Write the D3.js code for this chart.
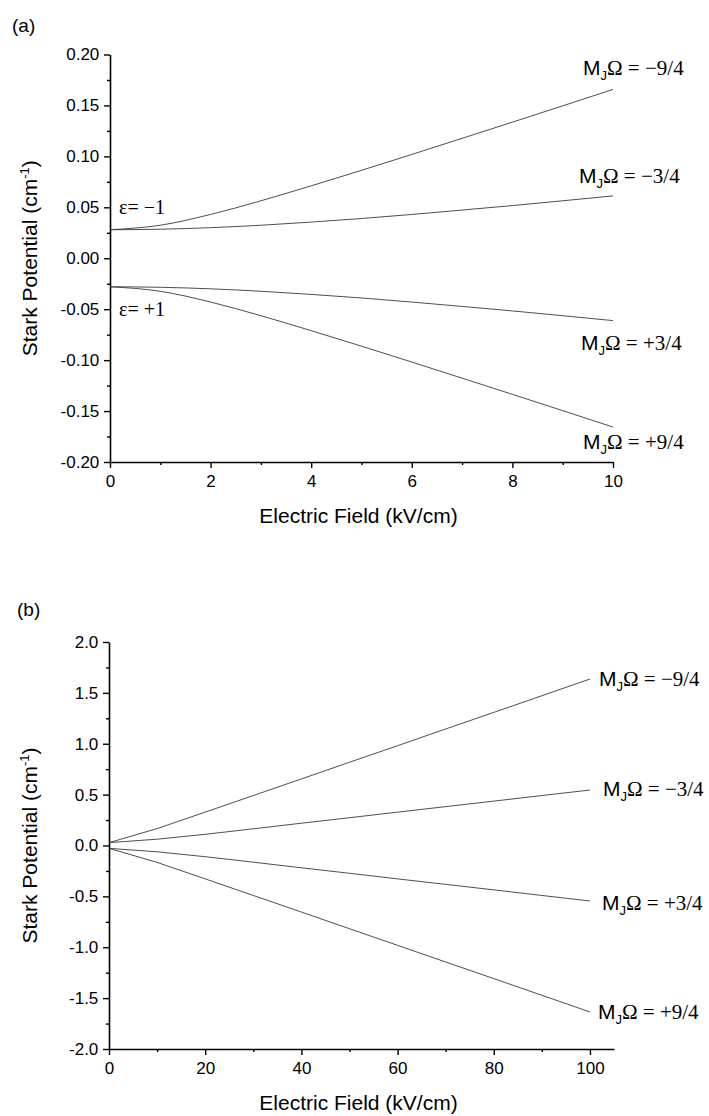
<!DOCTYPE html>
<html><head><meta charset="utf-8">
<script src="https://cdn.jsdelivr.net/npm/d3@7"></script>
<style>
html,body{margin:0;padding:0;background:#fff;}
svg{display:block;}
</style></head>
<body>
<svg id="chart" width="709" height="1116"></svg>
<script>
// ---------- DATA ----------
// Panel (a): low field
const fieldA = [0,1,2,3,4,5,6,7,8,9,10];
const aMinus94 = [0.028,0.0324,0.0430,0.0564,0.0711,0.0863,0.1019,0.1177,0.1336,0.1496,0.1657];
const aMinus34 = [0.028,0.0285,0.0300,0.0324,0.0355,0.0390,0.0430,0.0473,0.0517,0.0564,0.0612];
const aPlus34  = [-0.028,-0.0285,-0.0300,-0.0324,-0.0355,-0.0390,-0.0430,-0.0473,-0.0517,-0.0564,-0.0612];
const aPlus94  = [-0.028,-0.0324,-0.0430,-0.0564,-0.0711,-0.0863,-0.1019,-0.1177,-0.1336,-0.1496,-0.1657];
// Panel (b): high field
const fieldB = [0,10,20,30,40,50,60,70,80,90,100];
const bMinus94 = [0.028,0.166,0.328,0.491,0.654,0.818,0.981,1.145,1.308,1.472,1.636];
const bMinus34 = [0.028,0.062,0.110,0.164,0.219,0.273,0.328,0.382,0.436,0.491,0.545];
const bPlus34  = [-0.028,-0.062,-0.110,-0.164,-0.219,-0.273,-0.328,-0.382,-0.436,-0.491,-0.545];
const bPlus94  = [-0.028,-0.166,-0.328,-0.491,-0.654,-0.818,-0.981,-1.145,-1.308,-1.472,-1.636];
const seriesLabels = ["\u22129/4","\u22123/4","+3/4","+9/4"];
const epsLabels = ["\u03b5= \u22121","\u03b5= +1"];
const epsValues = [0.05,-0.05];
const ticksAx = [0,2,4,6,8,10];
const ticksAy = [-0.20,-0.15,-0.10,-0.05,0.00,0.05,0.10,0.15,0.20];
const ticksBx = [0,20,40,60,80,100];
const ticksBy = [-2.0,-1.5,-1.0,-0.5,0.0,0.5,1.0,1.5,2.0];
const minorAx = [1,3,5,7,9];
const minorAy = [-0.175,-0.125,-0.075,-0.025,0.025,0.075,0.125,0.175];
const minorBx = [10,30,50,70,90];
const minorBy = [-1.75,-1.25,-0.75,-0.25,0.25,0.75,1.25,1.75];
const panelTags = ["(a)","(b)"];
const xTitle = "Electric Field (kV/cm)";
const yTitle = "Stark Potential (cm";

// ---------- LAYOUT ----------
const svg = d3.select("#chart");
const SANS = "'Liberation Sans', Arial, sans-serif";
const SERIF = "'Liberation Serif', 'Times New Roman', serif";

const panels = [
  {
    tag: panelTags[0], tagX: 12, tagY: 32,
    x: d3.scaleLinear().domain([0,10]).range([110,613]),
    y: d3.scaleLinear().domain([-0.2,0.2]).range([462,54.5]),
    xTicks: ticksAx, xMinor: minorAx, yTicks: ticksAy, yMinor: minorAy,
    yFmt: v => d3.format(".2f")(v).replace("\u2212","-"),
    xs: fieldA, series: [aMinus94,aMinus34,aPlus34,aPlus94],
    labelDX: [-30,-34,-32,-30], labelDY: [-21,-20,22,15],
    eps: true, curve: d3.curveMonotoneX
  },
  {
    tag: panelTags[1], tagX: 17, tagY: 616,
    x: d3.scaleLinear().domain([0,105]).range([109,614]),
    y: d3.scaleLinear().domain([-2,2]).range([1049,642]),
    xTicks: ticksBx, xMinor: minorBx, yTicks: ticksBy, yMinor: minorBy,
    yFmt: v => d3.format(".1f")(v).replace("\u2212","-"),
    xs: fieldB, series: [bMinus94,bMinus34,bPlus34,bPlus94],
    labelDX: [9,13,12,8], labelDY: [0,-1,2,0],
    eps: false, curve: d3.curveLinear
  }
];

panels.forEach(p => {
  const g = svg.append("g");
  const [x0,x1] = p.x.range();
  const [yb,yt] = p.y.range();

  // panel tag
  g.append("text").attr("x",p.tagX).attr("y",p.tagY)
    .attr("font-family",SANS).attr("font-size",19).text(p.tag);

  // x axis
  const xAxis = d3.axisBottom(p.x).tickValues(p.xTicks).tickSize(6).tickSizeOuter(0).tickFormat(d3.format("d"));
  const gx = g.append("g").attr("transform",`translate(0,${yb})`).call(xAxis);
  gx.select(".domain").attr("stroke","#000").attr("stroke-width",1.6);
  gx.selectAll(".tick line").attr("stroke","#000").attr("stroke-width",1.4);
  gx.selectAll(".tick text").attr("font-family",SANS).attr("font-size",17).attr("fill","#000").attr("dy","0.95em");
  const xMinorAxis = d3.axisBottom(p.x).tickValues(p.xMinor).tickSize(3).tickFormat("");
  const gxm = g.append("g").attr("transform",`translate(0,${yb})`).call(xMinorAxis);
  gxm.select(".domain").remove();
  gxm.selectAll(".tick line").attr("stroke","#000").attr("stroke-width",1.4);

  // y axis
  const yAxis = d3.axisLeft(p.y).tickValues(p.yTicks).tickSize(6).tickSizeOuter(0).tickFormat(p.yFmt);
  const gy = g.append("g").attr("transform",`translate(${x0},0)`).call(yAxis);
  gy.select(".domain").attr("stroke","#000").attr("stroke-width",1.6);
  gy.selectAll(".tick line").attr("stroke","#000").attr("stroke-width",1.4);
  gy.selectAll(".tick text").attr("font-family",SANS).attr("font-size",17).attr("fill","#000").attr("dx","-0.1em");
  const yMinorAxis = d3.axisLeft(p.y).tickValues(p.yMinor).tickSize(3).tickFormat("");
  const gym = g.append("g").attr("transform",`translate(${x0},0)`).call(yMinorAxis);
  gym.select(".domain").remove();
  gym.selectAll(".tick line").attr("stroke","#000").attr("stroke-width",1.4);

  // axis titles
  g.append("text").attr("x",(x0+x1)/2 - 3).attr("y",yb+61)
    .attr("text-anchor","middle").attr("font-family",SANS).attr("font-size",21).text(xTitle);
  const yt2 = g.append("text")
    .attr("transform",`translate(37,${(yb+yt)/2}) rotate(-90)`)
    .attr("text-anchor","middle").attr("font-family",SANS).attr("font-size",21);
  yt2.append("tspan").text(yTitle);
  yt2.append("tspan").attr("font-size",13).attr("dy",-8).text("-1");
  yt2.append("tspan").attr("dy",8).text(")");

  // curves
  const line = d3.line().x((d,i)=>p.x(p.xs[i])).y(d=>p.y(d)).curve(p.curve);
  p.series.forEach((s,k) => {
    g.append("path").datum(s).attr("d",line)
      .attr("fill","none").attr("stroke","#3a3a3a").attr("stroke-width",0.9);
    const ex = p.x(p.xs[p.xs.length-1]) + p.labelDX[k];
    const ey = p.y(s[s.length-1]) + p.labelDY[k] + 7;
    const t = g.append("text").attr("x",ex).attr("y",ey).attr("font-size",21).attr("fill","#000");
    t.append("tspan").attr("font-family",SANS).text("M");
    t.append("tspan").attr("font-family",SANS).attr("font-size",13).attr("dy",5).text("J");
    t.append("tspan").attr("font-family",SERIF).attr("dy",-5).text("\u03a9 = " + seriesLabels[k]);
  });

  // epsilon labels
  if (p.eps) {
    epsLabels.forEach((e,k) => {
      g.append("text").attr("x",119).attr("y",p.y(epsValues[k])+7)
        .attr("font-family",SERIF).attr("font-size",20).text(e);
    });
  }
});
</script>
</body></html>
